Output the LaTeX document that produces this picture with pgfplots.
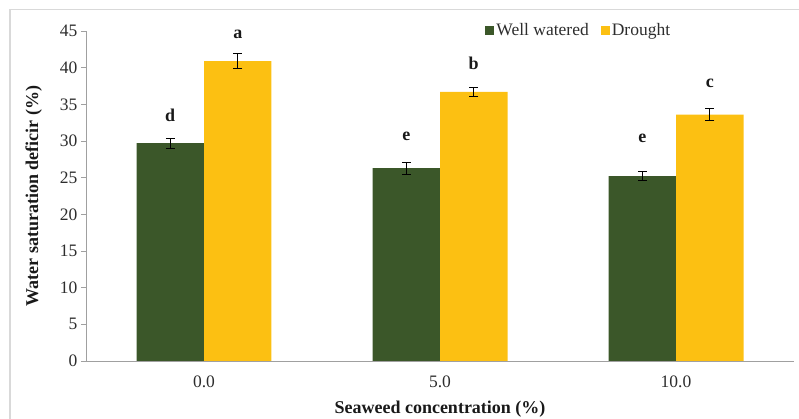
\documentclass[border=0pt]{standalone}
\usepackage{pgfplots}
\pgfplotsset{compat=1.18}
\usepackage{fontspec}
\setmainfont{Liberation Serif}
\definecolor{ww}{RGB}{59,87,41}
\definecolor{dr}{RGB}{252,192,18}
\definecolor{axgray}{RGB}{160,160,160}
\definecolor{txt}{RGB}{45,45,45}
\begin{document}
\begin{tikzpicture}
\path[use as bounding box] (0,0) rectangle (799pt,419pt);
\draw[gray!30, line width=1.2pt] (10pt,0) -- (10pt,409.5pt) -- (799pt,409.5pt);
\begin{axis}[
  at={(86pt,58pt)}, anchor=south west,
  scale only axis, width=708pt, height=330pt,
  xmin=-0.5, xmax=2.5, ymin=0, ymax=45,
  ytick={0,5,...,45},
  xtick={0,1,2}, xticklabels={0.0,5.0,10.0},
  major x tick style={draw=none},
  extra x ticks={-0.5,0.5,1.5,2.5}, extra x tick labels={},
  extra x tick style={major tick length=5pt, tick align=outside, tick style={draw=axgray, line width=0.8pt}},
  ytick align=outside, major tick length=5pt,
  y tick style={draw=axgray, line width=0.8pt},
  axis x line*=bottom, axis y line*=left,
  axis line style={draw=axgray, line width=0.8pt, -},
  /pgf/number format/assume math mode=true,
  tick label style={font=\fontsize{17.5}{19}\selectfont, text=txt},
  xticklabel style={yshift=-6pt},
  ybar=0pt, bar width=0.286,
  xlabel={\textbf{Seaweed concentration (\%)}},
  ylabel={\textbf{Water saturation deficir (\%)}},
  every axis x label/.style={at={(axis description cs:0.5,-0.146)}, anchor=center, font=\fontsize{18}{20}\selectfont, text=black!90},
  every axis y label/.style={at={(axis description cs:-0.074,0.5)}, rotate=90, anchor=center, font=\fontsize{18}{20}\selectfont, text=black!90},
  legend style={at={(rel axis cs:0.696,1.003)}, anchor=center, draw=none, fill=none,
    font=\fontsize{17.5}{19}\selectfont, text=txt, legend columns=2, inner sep=0pt,
    /tikz/every even column/.append style={column sep=10pt}},
  legend image code/.code={\fill[#1] (0pt,-4.5pt) rectangle (9pt,4.5pt);},
  legend cell align=left,
  clip=false,
]
\addplot+[draw=none, fill=ww, error bars/.cd, y dir=both, y explicit,
  error bar style={black, line width=0.6pt},
  error mark options={rotate=90, mark size=4.5pt, black, line width=0.6pt}]
  table[x=x, y=y, y error=e] {
x y e
0 29.7 0.7
1 26.3 0.8
2 25.2 0.6
};
\addlegendentry{Well watered}
\addplot+[draw=none, fill=dr, error bars/.cd, y dir=both, y explicit,
  error bar style={black, line width=0.6pt},
  error mark options={rotate=90, mark size=4.5pt, black, line width=0.6pt}]
  table[x=x, y=y, y error=e] {
x y e
0 40.9 1.05
1 36.7 0.65
2 33.6 0.8
};
\addlegendentry{Drought}
\begin{scope}[every node/.style={font=\bfseries\fontsize{18}{20}\selectfont, text=black!90}]
\node at (axis cs:-0.143,33.5) {d};
\node at (axis cs:0.143,44.5) {a};
\node at (axis cs:0.857,30.7) {e};
\node at (axis cs:1.143,40.6) {b};
\node at (axis cs:1.857,30.4) {e};
\node at (axis cs:2.143,37.8) {c};
\end{scope}
\end{axis}
\end{tikzpicture}
\end{document}
